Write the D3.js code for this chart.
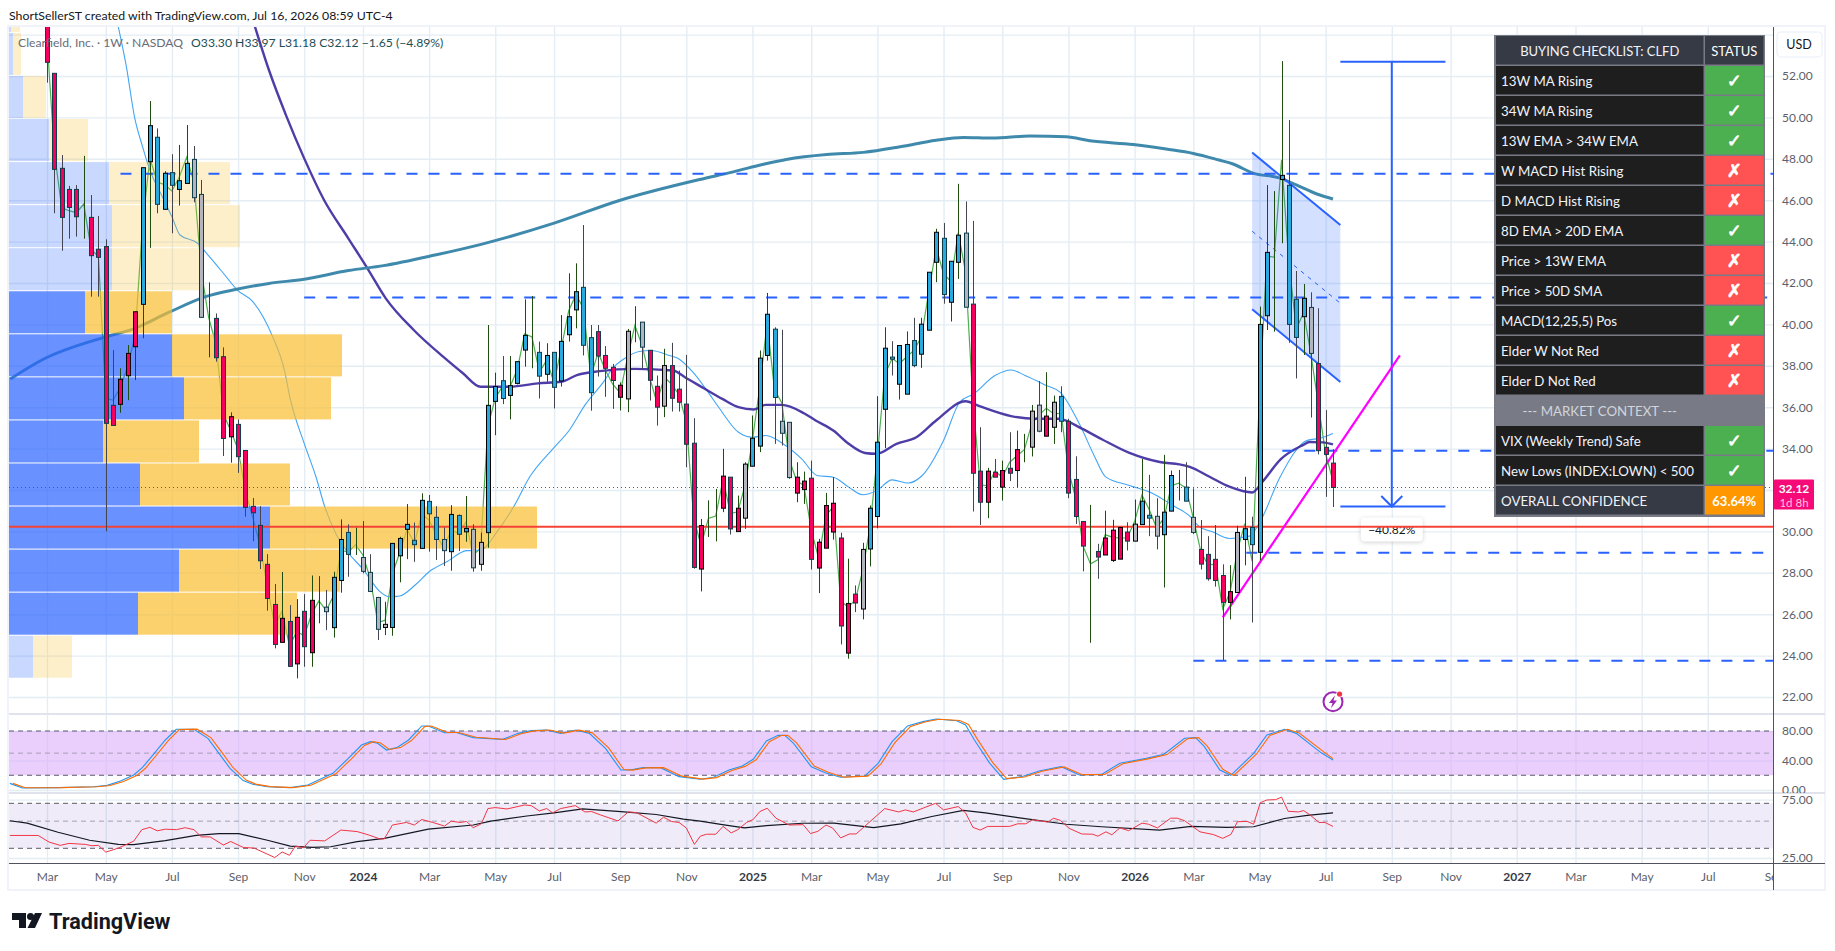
<!DOCTYPE html>
<html>
<head>
<meta charset="utf-8">
<title>CLFD weekly</title>
<script src="https://cdn.jsdelivr.net/npm/d3@7"></script>
<style>
  html, body { margin: 0; padding: 0; background: #fff; }
  text { font-family: Lato, "Open Sans", sans-serif; }
  .axis .domain { display: none; }
</style>
</head>
<body>
<svg id="chart"></svg>
<script>
// weekly candles, bar 0 = first week of Mar 2023
const opens = [
  56,52.13,47.54,46.52,46.52,45.17,45.17,43.63,43.76,36.09,
  36.14,37.52,38.92,40.97,47.86,49.04,45.56,47.33,46.52,46.81,
  47.97,46.28,40.53,40.29,38.44,34.57,35.17,33.91,31.21,30.29,
  28.41,26.47,24.64,25.65,23.6,26.14,24.14,26.53,26.34,25.35,
  27.63,29.95,29.03,28.74,28.02,26.81,25.36,25.36,28.82,30.1,
  29.57,29.18,31.45,30.68,29.61,29.02,30.77,29.98,30.1,28.41,
  29.94,36.28,37.28,36.57,37.15,38.76,38.92,38.65,37.59,38.65,
  37.27,39.5,40.7,41.79,39.36,39.65,38.5,37.93,36.48,36.4,
  39.82,40.11,38.75,37.01,36.05,38.01,36.87,36.15,34.26,28.18,
  30.65,30.65,31.12,32.62,29.99,30.64,33.15,34.12,38.5,39.77,
  35.32,35.27,31.85,32.02,32.57,28.23,29.19,29.97,29.68,24.12,
  26.97,26.25,29.15,30.72,35.9,38.42,37.11,36.63,39.22,38.56,
  39.72,43,44.16,41.07,43,44.41,40.98,32.91,31.41,32.86,
  32.14,33.05,32.94,33.78,34.07,36.1,34.6,35.03,36.52,35.32,
  32.51,30.48,29.39,29.03,28.86,28.6,28.66,29.97,29.53,30.33,
  30.78,30.73,29.84,30.98,32.54,32.14,30.68,29.13,28.89,28.65,
  27.87,26.57,27.05,29.61,30.19,28.99,40.42,43.64,47,46.72,
  41.21,40.37,40.82,38.11,34.06,33.3
];
const highs = [
  57,52.13,48.18,46.69,46.73,48.14,46.25,45.24,44.11,38.76,
  37.88,39,40.61,47.57,50.79,49.47,47.4,48.22,48.67,49.63,
  48.62,46.98,42.03,40.53,38.89,35.75,35.41,33.91,31.61,31.22,
  28.9,27.46,28.04,26.44,26.73,26.97,27.87,27.84,27.17,28.05,
  30.58,30.34,30.18,30.5,28.9,26.81,26.6,29.42,29.74,31.32,
  30.43,31.84,31.76,31.22,30.19,31.27,30.82,31.71,30.34,29.94,
  39.97,37.67,38.47,38.47,38.2,41.21,41.37,39.17,39.09,38.65,
  40.45,42.47,42.95,44.8,39.97,39.97,38.95,38.09,37.2,39.78,
  40.88,40.11,38.75,37.53,38.82,39.11,37.77,38.53,35.47,30.6,
  31.5,32.05,33.99,32.62,31.73,33.34,35.6,38.74,41.52,39.86,
  39.74,35.27,33.34,32.89,33.42,29.64,31.86,32.62,29.94,28.68,
  27.39,29.45,31.25,36.53,39.86,39.19,38.98,39.66,40.32,40.32,
  42.52,44.62,44.9,43.05,46.79,45.94,45,35.03,33.07,33.5,
  33.42,34.79,34.87,34.71,36.11,37.26,37.69,36.56,37.01,35.44,
  33.63,30.48,31.28,29.4,31,30.56,30.19,30.44,31.54,33.5,
  32.73,31.6,33.7,32.94,32.97,33.34,32.08,30.55,29.77,30.31,
  28.41,28.37,30.27,32.64,30.71,40.86,46.73,46.44,52.72,49.87,
  42.58,41.95,41.55,40.78,35.86,33.97
];
const lows = [
  51.68,45.37,43.56,44.14,44.24,44.14,41.34,41.34,30,35.12,
  35.73,36.34,37.31,39.33,43.7,45.37,45.56,44.4,45.74,46.81,
  45.9,40.34,38.41,38.2,33.64,33.32,32.83,30.71,29.53,28.18,
  26.17,24.35,24.64,23.48,22.9,23.46,23.46,25.56,25.23,24.87,
  27.04,27.81,28.86,27.97,27.1,24.75,24.99,24.96,27.54,28.66,
  28.53,29.18,29.02,28.62,28.33,28.1,29.05,29.5,28.05,28.1,
  29.21,34.65,36.15,35.41,37.1,37.96,37.88,36.42,37.23,35.94,
  37,39.17,39.81,38.5,35.83,37.48,36.5,35.92,35.84,35.76,
  39.14,37.85,36.32,35.11,35.52,35.79,35.79,33.1,28.2,27.1,
  29.73,29.52,30.93,29.85,29.99,30.12,33.15,33.83,38.25,34.23,
  34.15,32.54,31.41,31.33,28.16,27.02,29.19,29.6,24.54,23.85,
  26.1,25.75,28.31,30.15,34.02,37.53,36.37,36.63,37.93,37.9,
  39.72,42.04,41,40.14,42.2,40.83,30.96,30.31,30.64,32.62,
  31.49,32.43,32.14,33.34,33.62,34.79,34.6,34.23,34.79,31.6,
  30.36,28.07,24.62,27.71,28.86,28.52,28.66,29.08,29.53,30.33,
  29.77,29.13,27.29,30.98,31.49,31.46,29.87,28.16,27.62,27.33,
  23.78,25.75,27.05,28.36,25.6,28.6,39.73,39.65,43.92,39.11,
  37.39,38.52,35.5,33.72,31.67,31.18
];
const closes = [
  52.66,47.49,45.17,45.65,45.2,45.17,43.32,43.24,35.22,35.12,
  37.35,38.6,40.61,47.57,49.6,45.8,47.3,46.72,46.94,47.78,
  46.12,40.34,40.53,38.39,34.49,35.54,33.61,31.16,30.9,28.58,
  26.76,24.54,25.8,23.48,25.85,24.43,26.67,26.53,26.12,27.78,
  29.61,28.89,29.03,28.07,27.1,25.27,25.51,29.42,29.66,30.34,
  29.36,31.5,30.85,29.61,29.07,30.82,29.86,30.14,28.24,29.47,
  36.09,37,36.42,37.04,38.2,39.47,38.92,37.5,38.5,36.96,
  39.18,40.37,41.58,38.99,36.7,38.47,37.88,37.29,37.06,39.67,
  39.82,38.9,37.3,36,38.01,36.43,36.24,34.21,28.26,30.28,
  30.65,30.65,32.67,30.12,31.12,33.25,34.5,38.37,40.49,36.47,
  34.74,32.6,32.62,32.43,28.65,29.48,31.25,31.36,25.43,26.52,
  26.54,29.13,31.12,34.31,38.85,38.32,38.98,39.03,38.01,40.01,
  42.52,44.45,41.44,43.05,44.31,40.83,32.81,31.41,32.91,32.62,
  32.94,32.81,33.95,33.78,35.81,34.84,35.57,36.24,35.32,31.85,
  30.72,29.29,29.39,28.76,29.68,30.06,30.19,29.53,30.35,31.46,
  30.64,29.77,30.93,32.7,32.54,31.46,29.95,28.42,27.71,27.63,
  26.57,27.09,29.95,30.13,29.36,40,43.48,43.64,47.2,40,
  39.37,41.26,38.6,33.9,33.72,32.12
];
// elder impulse colour of each bar: c = crimson, b = blue, n = neutral
const impulse = (
  "cccccccccc" + "cccbbbbbbb" + "nncccccccc" + "ccccccccnb" + "bbbnnnnbbb" + "bbbbnbbbnn" +
  "bbbbbbbbbb" + "bbbbbccccn" + "nnccnccccc" + "cccccnbbbb" + "nncccccccc" + "cnbbbbbbbb" +
  "bbbbbncccc" + "ccccnncnbc" + "ccccccccnb" + "bnbbbbnccc" + "ccnbbbbbbb" + "bbnccc"
).split("");

// moving averages at these bars
const longMaBars = [-5,-0.7,8.1,11.9,16.7,21.6,25.3,30.2,35,41,45.8,52.8,59.2,68.9,78,88.8,93.4,97.5,100.6,106.1,111.1,116.1,121,124.7,128.7,133.7,138.7,141.9,147.8,152.3,156,159.5,161.4,164.1,167.8,170,172.8,175];
const longMaValues = [37.36,38.28,39.41,39.8,40.6,41.34,41.66,41.98,42.18,42.6,42.84,43.35,43.88,44.88,46,47,47.37,47.74,47.97,48.21,48.31,48.58,48.9,49.03,49,49.1,49.06,48.87,48.69,48.47,48.26,47.94,47.75,47.31,47.07,46.74,46.3,46.06];
const midMaBars = [28.3,30.2,32.6,35,37.7,41,43.6,46.1,49.9,53.9,56.6,59,63,66.8,70,72.2,75.2,80,85.2,86.8,89.5,91.9,94.1,96.2,97.8,100,103,104.6,107,109.1,111.3,112.9,115.6,118.3,121,125,126.9,131.2,134.4,137.6,140.9,143.6,147.3,151.6,154.1,155.5,158.2,160.9,164,165.4,167.9,170.9,171.8,173.6,175];
const midMaValues = [54.38,52.29,50.04,48.02,46.01,44.16,42.71,41.26,39.73,38.44,37.64,36.99,36.99,37.15,37.23,37.56,37.74,37.85,37.77,37.45,36.89,36.4,36,35.89,36.11,36.11,35.71,35.36,34.87,34.23,33.79,33.75,34.23,34.55,35.36,36.29,36.05,35.57,35.44,35.44,34.95,34.44,33.79,33.34,33.24,33.12,32.64,32.16,31.88,32.4,33.49,34.17,34.32,34.3,34.2];
const shortMaBars = [9.7,10.8,11.9,13,14,15.7,17,18.1,20.5,22.1,24,25.9,28,29.4,30.7,32.3,33.1,35,36.6,37.8,39.3,40.7,43.1,45.3,46.6,48,50.1,52,54.4,57.1,59,61.4,63.5,65.7,68.9,71.1,73.2,75.9,76.9,78.5,80.6,82.2,84.7,86,87.9,89.8,91.4,94.1,96,97.8,100.5,102.7,104.8,107,109.1,111,112.9,115,117.2,119.1,122,124.2,126.1,129,131.2,133.1,136,137.9,140.6,142.5,144.1,147.3,150.6,153.2,155.4,156.8,158.6,160.9,163.6,165.2,167.7,171.6,173.1,175];
const shortMaValues = [54.38,52.45,50.04,48.59,47.46,46.17,45.2,44.32,43.92,43.27,42.47,41.66,41.1,40.37,39.41,37.8,36.4,34.25,32.64,31.19,29.9,29.1,28.13,27.09,26.84,26.88,27.41,28.05,28.53,29.07,29.1,30.06,31.19,32.64,34.01,34.9,36.1,37.31,37.85,38.33,38.69,38.74,38.5,38.33,37.69,36.81,36,34.79,34.55,34.63,34.15,33.5,32.7,32.62,32.14,31.77,31.97,32.49,32.34,32.7,34.39,36.24,36.64,37.53,37.8,37.53,37.05,36.72,35.11,33.66,32.62,32.22,31.81,31.25,30.77,30.23,29.98,29.66,29.77,30.55,32.56,34.41,34.49,34.73];

// volume profile, rows from the bottom up
const vpEdges = [22.93,25.01,27.09,29.17,31.25,33.33,35.41,37.49,39.57,41.65,43.73,45.81,47.89,49.97,52.05,54.13,56.21];
const vpUp = [24,129,170,261,131,94,175,163,76,103,103,100,40,14,4,2];
const vpDown = [39,159,161,267,150,96,147,170,87,88,128,121,39,23,8,9];
const vpValueArea = [0,1,1,1,1,1,1,1,1,0,0,0,0,0,0,0];

// horizontal levels drawn on the chart: price and first bar
const levelPrices = [47.28,41.3,33.9,28.97,23.75];
const levelStartBars = [10,35,168.1,163.2,156];
const supportPrice = 30.23;
const lastPrice = 32.12;

// channel, trend line and price range drawings
const channelBars = [164,176];
const channelUpper = [48.3,44.8];
const channelMiddle = [44.5,41.02];
const channelLower = [40.73,37.22];
const trendBars = [160,184.1];
const trendPrices = [25.85,38.5];
const rangeBar = 183;
const rangeCapBars = [176,190.3];
const rangePrices = [52.69,31.2];
const rangeLabel = "\u221240.82%";

// stochastic pane
const stochKBars = [-5.05,-3.35,1.5,6.4,8.2,10,11.8,13,14.6,16.1,17.6,20,21.9,23.4,24.9,26.7,28,30,33.1,35.5,38.9,41,42.8,44,45,46.2,47.7,49.2,51,51.9,54.1,55.6,58,62,64.1,65.9,68,69.9,72,73.8,76,78.1,79.3,81.1,83.5,86,88.9,90.7,92.8,94.6,96.1,97.9,99.5,100.4,101.6,104,105.9,108,111.3,113.1,115,117.1,119.2,121,123.8,125,126.2,128.3,130.2,132.6,135,138,140.5,143.5,146,149.6,152,154.8,156.3,157.5,159.6,161.1,164.2,166,168.4,170,173.3,175];
const stochKValues = [9,2.7,3.2,4.5,6.3,12.2,20.3,30.7,49.7,67.8,82.3,82.3,70.1,49.7,29.4,12.7,7.7,4.5,3.2,6.8,22.6,42.9,61,65.5,63.3,54.2,57.9,67.8,86.8,86.8,77.7,78.2,71,68.7,76.8,80.5,81.4,76.8,81.4,76.8,56.5,27.1,27.1,30.3,30.3,18.1,14.5,17.2,27.1,32.5,41.6,66.4,74.1,74.1,63.3,31.6,23.5,17.2,19,36.2,65.5,86.8,92.7,96.3,94,88.1,67.8,36.2,14.5,18.1,25.8,31.6,20.3,21.2,36.2,42.9,48.4,70.1,71,58.8,27.1,19.9,49.7,74.6,82.3,76.8,51.1,40.7];
const stochDBars = [-4.65,-2.95,1.9,6.8,8.6,10.4,12.2,13.4,15,16.5,18,20.4,22.3,23.8,25.3,27.1,28.4,30.4,33.5,35.9,39.3,41.4,43.2,44.4,45.4,46.6,48.1,49.6,51.4,52.3,54.5,56,58.4,62.4,64.5,66.3,68.4,70.3,72.4,74.2,76.4,78.5,79.7,81.5,83.9,86.4,89.3,91.1,93.2,95,96.5,98.3,99.9,100.8,102,104.4,106.3,108.4,111.7,113.5,115.4,117.5,119.6,121.4,124.2,125.4,126.6,128.7,130.6,133,135.4,138.4,140.9,143.9,146.4,150,152.4,155.2,156.7,157.9,160,161.5,164.6,166.4,168.8,170.4,173.7,175];
const stochDValues = [9,3,3.2,4.5,6,11.5,19.5,29.5,48.5,67,82,82.5,71,51,30.5,13.5,8,4.6,3.2,6.4,22,42,60.5,65.5,63.8,55,57.5,67,86,86.8,78,78,71.5,68.5,76.3,80.2,81.3,77.2,81.2,77.5,57.5,27.8,27,30,30.3,18.8,14.8,16.8,26.5,32,41,65.5,73.8,74.2,64,32.5,24,17.4,18.8,35.5,64.5,86,92.5,96,94.2,88.8,69,37.2,15.5,17.6,25.5,31.3,20.8,21,35.6,42.5,48,69.5,71,59.5,28,19.7,48.8,74,82.3,77.3,52,42.6];

// rsi pane
const rsiBars = [-5.05,-1.2,0.3,1.8,3,5.2,6.1,7,8,9.7,11.8,12.9,14,15,16.1,17.6,18.8,20,21,22.2,24,25,26.7,28.2,31,32,33,33.8,34.9,35.8,37.8,40,42.2,43.7,45.3,45.9,47,48.9,50,51,52.5,54.1,55,56.2,57.1,58,59.1,60,61,62.6,65,65.9,67,68,68.8,69.9,71.9,73.2,74.1,75.3,77.7,79.1,80.2,82.9,83.9,85,86,87,88.1,88.9,89.75,91,92,93.1,94,95.2,96.1,97,98,99.2,101,102.9,103.9,104.9,106,106.9,108,109.2,110.1,114,115.9,116.8,117.9,120.9,122,124,125,126,127,128,131,132.1,133.2,134.1,136.2,137,137.9,139.1,140.8,142.3,143,144.1,144.9,146,147.2,149,149.9,151.1,152.9,153.8,154.8,156.9,158.7,160,161.1,162,163.3,164.2,165.1,166,167.2,168,168.9,170.3,171,171.8,173.1,173.9,175];
const rsiValues = [38.2,38.2,33.7,31.7,32.9,32.3,31.5,31.7,27.9,30.1,34.3,42.6,44.5,41.7,43,42.6,44.2,42.6,37.2,37.2,31.9,34.1,30.5,30.1,25.2,28,26.3,31.3,30.3,34.9,34.5,42.3,41.1,38.7,35.8,35.8,46.5,48.8,46.5,51.6,48.8,45.6,50,48.8,49.7,44.2,47.6,63.4,64.6,62.9,67.8,67,60.6,63.4,58.5,63.4,67,59.5,59.9,56.3,50.2,59.5,58.8,48.2,53.9,49.7,48.8,44,32.3,37.7,39.1,39.1,45.3,40.1,42.6,48.8,51.6,59.9,63.8,52.9,46.5,46.8,39.6,41.3,46.5,44,36.5,39.3,39.3,63.4,59.5,61.8,59.5,70,61.8,65.8,58.5,44.5,42.3,45.3,45.3,47.6,47.6,51.3,49.2,52.9,50.7,43.7,39.3,39.1,37.7,40.9,38.7,44,41.8,48.2,47.2,44,52.9,52.9,50.5,40.9,38.9,36.2,38.9,49.5,49.8,47.2,70.8,74.5,75,78.6,60.2,59.5,61,56.7,48.8,48.8,45.3];
const rsiMaBars = [-5.05,-2.7,1.5,5.8,9.7,11.8,16.1,20.3,23.4,26.1,30,33.1,36.1,38.6,42.2,45.9,51.9,58,60.4,65.3,69,72.9,78.1,82.9,86.6,88.9,91.9,94.9,97.9,102.8,107.1,112.5,116.2,120.4,124.7,127.7,132.6,138.7,143.5,151.4,155.7,160.5,164.2,168.4,171.5,175];
const rsiMaValues = [50.4,48.2,40.6,34.9,32.3,32.1,34.7,38.3,39.6,39.6,34.9,31.3,30.5,30.9,34,36.2,43,46.5,50,55.1,58.5,63.1,59.9,56.7,51.9,50,46.8,44,46,48.1,48.2,44.2,47.5,54.6,61.2,58.5,52.9,47.2,45,42.3,45.3,44.5,45,52.6,55.7,58.5];

// axis ticks
const priceTicks = [22,24,26,28,30,32,34,36,38,40,42,44,46,48,50,52,54];
const priceLabelTicks = [22,24,26,28,30,34,36,38,40,42,44,46,48,50,52];
const stochTicks = [0,40,80];
const stochLevels = [20,50,80];
const rsiTicks = [25,75];
const rsiLevels = [30,50,70];
const timeBars = [0,8,17,26,35,43,52,61,69,78,87,96,104,113,122,130,139,148,156,165,174,183,191,200,208,217,226,235];
const timeLabels = ["Mar","May","Jul","Sep","Nov","2024","Mar","May","Jul","Sep","Nov","2025","Mar","May","Jul","Sep","Nov","2026","Mar","May","Jul","Sep","Nov","2027","Mar","May","Jul","Sep"];

// checklist table
const tableHeader = ["BUYING CHECKLIST: CLFD","STATUS"];
const checkLabels = ["13W MA Rising","34W MA Rising","13W EMA > 34W EMA","W MACD Hist Rising","D MACD Hist Rising","8D EMA > 20D EMA","Price > 13W EMA","Price > 50D SMA","MACD(12,25,5) Pos","Elder W Not Red","Elder D Not Red"];
const checkPassed = [1,1,1,0,0,1,0,0,1,0,0];
const contextTitle = "--- MARKET CONTEXT ---";
const contextLabels = ["VIX (Weekly Trend) Safe","New Lows (INDEX:LOWN) < 500"];
const contextPassed = [1,1];
const confidenceLabel = "OVERALL CONFIDENCE";
const confidenceValue = "63.64%";

class CandleChart {

  constructor(_config) {
    this.config = {
      parentElement: _config.parentElement,
      containerWidth: _config.containerWidth,
      containerHeight: _config.containerHeight
    };
    this.initVis();
  }

  /**
   * Scales, axes and panes
   */
  initVis() {
    let vis = this;

    vis.left = 9;
    vis.right = 1773;
    vis.frameRight = 1825;
    vis.top = 27;
    vis.mainBottom = 714;
    vis.stochBottom = 793;
    vis.timeY = 863;
    vis.frameBottom = 890;

    vis.xScale = d3.scaleLinear().domain([0, 175]).range([47, 1333]);
    vis.yScale = d3.scaleLinear().domain([22, 52]).range([697, 76]);
    vis.stochScale = d3.scaleLinear().domain([0, 80]).range([790, 731]);
    vis.rsiScale = d3.scaleLog().domain([30, 70]).range([848.3, 803.3]);
    vis.volScale = d3.scaleLinear().domain([0, 600]).range([vis.left, vis.left + 600]);

    vis.svg = d3.select(vis.config.parentElement)
        .attr('width', vis.config.containerWidth)
        .attr('height', vis.config.containerHeight)
        .style('display', 'block');

    let clip = (id, x, y, w, h) => vis.svg.append('clipPath').attr('id', id)
        .append('rect').attr('x', x).attr('y', y).attr('width', w).attr('height', h);
    clip('main-clip', vis.left, vis.top, vis.right - vis.left, vis.mainBottom - vis.top);
    clip('plot-clip', vis.left, vis.top, vis.right - vis.left, vis.timeY - vis.top);
    clip('time-clip', vis.left, vis.timeY, vis.right - vis.left, 27);
    clip('stoch-clip', vis.right, vis.mainBottom, 52, vis.stochBottom - vis.mainBottom);
  }

  renderVis() {
    let vis = this;
    vis.renderFrame();
    vis.renderGrid();
    let mainPane = vis.svg.append('g').attr('clip-path', 'url(#main-clip)');
    // the profile sits over the averages, its alpha lets them show through
    vis.renderAverages(mainPane);
    vis.renderVolumeProfile(mainPane);
    vis.renderDrawings(mainPane);
    vis.renderCandles(mainPane);
    vis.renderIndicators();
    vis.renderAxes();
    vis.renderTable();
    vis.renderText();
  }

  renderFrame() {
    let vis = this;
    vis.svg.append('rect')
        .attr('x', vis.left - 1).attr('y', vis.top - 1)
        .attr('width', vis.frameRight - vis.left + 1).attr('height', vis.frameBottom - vis.top + 1)
        .attr('fill', '#fff').attr('stroke', '#f0f3fa').attr('stroke-width', 2);
  }

  renderGrid() {
    let vis = this;
    let grid = vis.svg.append('g').attr('clip-path', 'url(#plot-clip)');

    // vertical month lines through every pane
    grid.append('g').attr('class', 'axis')
        .attr('transform', `translate(0,${vis.timeY})`)
        .call(d3.axisBottom(vis.xScale).tickValues(timeBars).tickSize(-(vis.timeY - vis.top)).tickFormat(''))
        .selectAll('line').attr('stroke', '#e4edf4').attr('stroke-width', 1.4);

    let gridWidth = vis.right - vis.left;
    [[vis.yScale, priceTicks], [vis.stochScale, stochTicks], [vis.rsiScale, rsiTicks]].forEach(([scale, ticks]) => {
      grid.append('g').attr('class', 'axis')
          .attr('transform', `translate(${vis.left},0)`)
          .call(d3.axisRight(scale).tickValues(ticks).tickSize(gridWidth).tickFormat(''))
          .selectAll('line').attr('stroke', '#e4edf4').attr('stroke-width', 1.4);
    });

    // bands of the lower panes
    grid.append('rect')
        .attr('x', vis.left).attr('width', gridWidth)
        .attr('y', vis.stochScale(80)).attr('height', vis.stochScale(20) - vis.stochScale(80))
        .attr('fill', '#d9a8fb').attr('opacity', 0.55);
    grid.append('rect')
        .attr('x', vis.left).attr('width', gridWidth)
        .attr('y', vis.rsiScale(70)).attr('height', vis.rsiScale(30) - vis.rsiScale(70))
        .attr('fill', '#7e57c2').attr('opacity', 0.12);

    // pane separators
    [vis.mainBottom, vis.stochBottom].forEach(y => {
      vis.svg.append('line')
          .attr('x1', vis.left).attr('x2', vis.frameRight).attr('y1', y).attr('y2', y)
          .attr('stroke', '#e0e3eb').attr('stroke-width', 2);
    });
  }

  renderVolumeProfile(pane) {
    let vis = this;
    let rows = vpUp.map((up, i) => ({
      up, down: vpDown[i], value: vpValueArea[i], low: vpEdges[i], high: vpEdges[i + 1]
    }));
    let rowY = d => vis.yScale(d.high) + 1;
    let rowH = d => vis.yScale(d.low) - vis.yScale(d.high) - 1;

    pane.selectAll('.vp-up').data(rows).join('rect')
        .attr('class', 'vp-up')
        .attr('x', vis.volScale(0))
        .attr('y', rowY).attr('height', rowH)
        .attr('width', d => vis.volScale(d.up) - vis.volScale(0))
        .attr('fill', '#2962ff')
        .attr('opacity', d => d.value ? 0.7 : 0.25);

    pane.selectAll('.vp-down').data(rows).join('rect')
        .attr('class', 'vp-down')
        .attr('x', d => vis.volScale(d.up))
        .attr('y', rowY).attr('height', rowH)
        .attr('width', d => vis.volScale(d.down) - vis.volScale(0))
        .attr('fill', '#fabe30')
        .attr('opacity', d => d.value ? 0.7 : 0.25);
  }

  renderDrawings(pane) {
    let vis = this;
    let x = vis.xScale, y = vis.yScale;
    const blue = '#2962ff';

    // price range tool
    let range = pane.append('g');
    range.append('line')
        .attr('x1', x(rangeBar)).attr('x2', x(rangeBar))
        .attr('y1', y(rangePrices[0])).attr('y2', y(rangePrices[1]))
        .attr('stroke', blue).attr('stroke-width', 2);
    rangePrices.forEach(p => {
      range.append('line')
          .attr('x1', x(rangeCapBars[0])).attr('x2', x(rangeCapBars[1]))
          .attr('y1', y(p)).attr('y2', y(p))
          .attr('stroke', blue).attr('stroke-width', 2);
    });
    range.append('path')
        .attr('d', d3.line()([[x(rangeBar) - 10.5, y(rangePrices[1]) - 10.5], [x(rangeBar), y(rangePrices[1])], [x(rangeBar) + 10.5, y(rangePrices[1]) - 10.5]]))
        .attr('fill', 'none').attr('stroke', blue).attr('stroke-width', 2);
    range.append('rect')
        .attr('x', x(rangeBar) - 31).attr('y', y(rangePrices[1]) + 11)
        .attr('width', 62).attr('height', 24).attr('rx', 4)
        .attr('fill', '#fff')
        .style('filter', 'drop-shadow(0 1px 2px rgba(0,0,0,.18))');
    range.append('text')
        .attr('x', x(rangeBar)).attr('y', y(rangePrices[1]) + 23)
        .attr('text-anchor', 'middle').attr('dominant-baseline', 'central')
        .attr('font-size', 12).attr('fill', '#131722')
        .text(rangeLabel);

    // channel
    let area = d3.area().x((d, i) => x(channelBars[i])).y0((d, i) => y(channelLower[i])).y1((d, i) => y(channelUpper[i]));
    pane.append('path').attr('d', area(channelBars)).attr('fill', blue).attr('opacity', 0.2);
    let chanLine = d3.line().x((d, i) => x(channelBars[i])).y(d => y(d));
    [channelUpper, channelLower].forEach(vals => {
      pane.append('path').attr('d', chanLine(vals))
          .attr('fill', 'none').attr('stroke', blue).attr('stroke-width', 2);
    });
    pane.append('path').attr('d', chanLine(channelMiddle))
        .attr('fill', 'none').attr('stroke', blue).attr('stroke-width', 1).attr('stroke-dasharray', '4 5');

    // dashed levels
    pane.selectAll('.level').data(levelPrices).join('line')
        .attr('class', 'level')
        .attr('x1', (d, i) => x(levelStartBars[i])).attr('x2', vis.right)
        .attr('y1', d => y(d)).attr('y2', d => y(d))
        .attr('stroke', blue).attr('stroke-width', 2).attr('stroke-dasharray', '11 11');

    // last price and support
    pane.append('line')
        .attr('x1', vis.left).attr('x2', vis.right).attr('y1', y(lastPrice)).attr('y2', y(lastPrice))
        .attr('stroke', '#ff0066').attr('stroke-width', 1).attr('stroke-dasharray', '1 3');
    pane.append('line')
        .attr('x1', vis.left).attr('x2', vis.right).attr('y1', y(supportPrice)).attr('y2', y(supportPrice))
        .attr('stroke', '#f44336').attr('stroke-width', 2);

    // trend line
    pane.append('path')
        .attr('d', d3.line().x((d, i) => x(trendBars[i])).y(d => y(d))(trendPrices))
        .attr('fill', 'none').attr('stroke', '#ff00ff').attr('stroke-width', 2.2);

    // earnings marker
    let cx = x(175), cy = 701.7;
    let mark = pane.append('g').attr('transform', `translate(${cx},${cy})`);
    mark.append('circle').attr('r', 9.5).attr('fill', '#fff').attr('stroke', '#9c27b0').attr('stroke-width', 2);
    mark.append('path').attr('d', 'M2,-6.5 L-4,1.2 L-0.5,1.2 L-2,6.5 L4,-1.2 L0.5,-1.2 Z').attr('fill', '#9c27b0');
    mark.append('circle').attr('cx', 6.6).attr('cy', -7.6).attr('r', 3.4).attr('fill', '#fff');
    mark.append('circle').attr('cx', 6.6).attr('cy', -7.6).attr('r', 2.6).attr('fill', '#f23645');
  }

  renderAverages(pane) {
    let vis = this;
    let maLine = bars => d3.line().curve(d3.curveMonotoneX).x((d, i) => vis.xScale(bars[i])).y(d => vis.yScale(d));

    // typical price of each bar
    let typical = highs.map((h, i) => (h + lows[i] + closes[i]) / 3);
    pane.append('path')
        .attr('d', d3.line().x((d, i) => vis.xScale(i)).y(d => vis.yScale(d))(typical))
        .attr('fill', 'none').attr('stroke', '#4caf50').attr('stroke-width', 1.2);

    pane.append('path').attr('d', maLine(shortMaBars)(shortMaValues))
        .attr('fill', 'none').attr('stroke', '#42a5f5').attr('stroke-width', 1.1);
    pane.append('path').attr('d', maLine(midMaBars)(midMaValues))
        .attr('fill', 'none').attr('stroke', '#3f2d9f').attr('stroke-width', 2.4).attr('opacity', 0.92);
    pane.append('path').attr('d', maLine(longMaBars)(longMaValues))
        .attr('fill', 'none').attr('stroke', '#3f8aac').attr('stroke-width', 3);
  }

  renderCandles(pane) {
    let vis = this;
    const fills = { c: '#f5005f', b: '#2aa9df', n: '#b2b5be' };
    let bars = opens.map((o, i) => ({ i, o, h: highs[i], l: lows[i], c: closes[i], color: fills[impulse[i]] }));
    let bx = d => Math.round(vis.xScale(d.i));

    let candle = pane.selectAll('.candle').data(bars).join('g').attr('class', 'candle');

    candle.append('line')
        .attr('x1', d => bx(d) + 0.5).attr('x2', d => bx(d) + 0.5)
        .attr('y1', d => vis.yScale(d.h)).attr('y2', d => vis.yScale(d.l))
        .attr('stroke', d => d.c >= d.o ? '#1f4d0f' : '#434651');

    candle.append('rect')
        .attr('x', d => bx(d) - 1.5)
        .attr('width', 4)
        .attr('y', d => vis.yScale(Math.max(d.o, d.c)))
        .attr('height', d => Math.abs(vis.yScale(d.o) - vis.yScale(d.c)))
        .attr('fill', d => d.color)
        .attr('stroke', d => d.c >= d.o ? '#000' : '#0f3d4a');
  }

  renderIndicators() {
    let vis = this;
    let pane = vis.svg.append('g').attr('clip-path', 'url(#plot-clip)');

    let level = (scale, v, dark) => pane.append('line')
        .attr('x1', vis.left).attr('x2', vis.right).attr('y1', scale(v)).attr('y2', scale(v))
        .attr('stroke', dark ? '#5d5a68' : '#a79fb5').attr('stroke-dasharray', '5 4');
    stochLevels.forEach(v => level(vis.stochScale, v, v !== 50));
    rsiLevels.forEach(v => level(vis.rsiScale, v, v !== 50));

    let stochLine = bars => d3.line().x((d, i) => vis.xScale(bars[i])).y(d => vis.stochScale(d));
    pane.append('path').attr('d', stochLine(stochKBars)(stochKValues))
        .attr('fill', 'none').attr('stroke', '#2196f3').attr('stroke-width', 1.1);
    pane.append('path').attr('d', stochLine(stochDBars)(stochDValues))
        .attr('fill', 'none').attr('stroke', '#ff6d00').attr('stroke-width', 1.1);

    let rsiLine = bars => d3.line().x((d, i) => vis.xScale(bars[i])).y(d => vis.rsiScale(d));
    pane.append('path').attr('d', rsiLine(rsiMaBars)(rsiMaValues))
        .attr('fill', 'none').attr('stroke', '#131722').attr('stroke-width', 1.2);
    pane.append('path').attr('d', rsiLine(rsiBars)(rsiValues))
        .attr('fill', 'none').attr('stroke', '#f23645').attr('stroke-width', 1);
  }

  renderAxes() {
    let vis = this;
    const axisText = sel => sel.selectAll('text').attr('fill', '#5d606b').attr('font-size', 12);

    // right axis line and time axis line
    vis.svg.append('line')
        .attr('x1', vis.right + 0.5).attr('x2', vis.right + 0.5).attr('y1', vis.top).attr('y2', vis.frameBottom)
        .attr('stroke', '#50535e');
    vis.svg.append('line')
        .attr('x1', vis.left).attr('x2', vis.frameRight).attr('y1', vis.timeY + 0.5).attr('y2', vis.timeY + 0.5)
        .attr('stroke', '#50535e');

    let priceAxis = d3.axisRight(vis.yScale).tickValues(priceLabelTicks).tickSize(0).tickPadding(9).tickFormat(d3.format('.2f'));
    vis.svg.append('g').attr('class', 'axis')
        .attr('transform', `translate(${vis.right},0)`).call(priceAxis).call(axisText);

    let stochAxis = d3.axisRight(vis.stochScale).tickValues(stochTicks).tickSize(0).tickPadding(9).tickFormat(d3.format('.2f'));
    vis.svg.append('g').attr('clip-path', 'url(#stoch-clip)')
        .append('g').attr('class', 'axis')
        .attr('transform', `translate(${vis.right},0)`).call(stochAxis).call(axisText);

    let rsiAxis = d3.axisRight(vis.rsiScale).tickValues(rsiTicks).tickSize(0).tickPadding(9).tickFormat(d3.format('.2f'));
    vis.svg.append('g').attr('class', 'axis')
        .attr('transform', `translate(${vis.right},0)`).call(rsiAxis).call(axisText);

    let timeAxis = d3.axisBottom(vis.xScale).tickValues(timeBars).tickSize(0).tickPadding(9)
        .tickFormat(d => timeLabels[timeBars.indexOf(d)]);
    vis.svg.append('g').attr('clip-path', 'url(#time-clip)')
        .append('g').attr('class', 'axis')
        .attr('transform', `translate(0,${vis.timeY})`).call(timeAxis).call(axisText)
        .selectAll('text').filter(d => /^\d{4}$/.test(timeLabels[timeBars.indexOf(d)]))
        .attr('fill', '#363a45').attr('font-weight', 700);

    // currency button
    vis.svg.append('rect')
        .attr('x', 1777).attr('y', 32).attr('width', 45).attr('height', 25).attr('rx', 4)
        .attr('fill', '#fff').attr('stroke', '#f0f3fa').attr('stroke-width', 1.5);
    vis.svg.append('text')
        .attr('x', 1799).attr('y', 44.5).attr('text-anchor', 'middle').attr('dominant-baseline', 'central')
        .attr('font-size', 12.5).attr('fill', '#131722').text('USD');

    // last price tag
    let tagY = vis.yScale(lastPrice);
    vis.svg.append('rect')
        .attr('x', vis.right + 1).attr('y', tagY - 8).attr('width', 40).attr('height', 30).attr('rx', 1)
        .attr('fill', '#f50a78');
    vis.svg.append('text')
        .attr('x', vis.right + 21).attr('y', tagY + 1).attr('text-anchor', 'middle').attr('dominant-baseline', 'central')
        .attr('font-size', 12).attr('font-weight', 700).attr('fill', '#fff').text(d3.format('.2f')(lastPrice));
    vis.svg.append('text')
        .attr('x', vis.right + 21).attr('y', tagY + 14.5).attr('text-anchor', 'middle').attr('dominant-baseline', 'central')
        .attr('font-size', 11.5).attr('fill', '#ffc4dd').text('1d 8h');
  }

  renderTable() {
    let vis = this;
    const rowH = 30, x0 = 1494, y0 = 35, col1 = 1703.5, col2 = 1705, end = 1763.5;
    const PASS = '\u2713', FAIL = '\u2717';
    let passRow = (label, ok) => ({ label, status: ok ? PASS : FAIL, fill: '#1e1e1e', statusFill: ok ? '#4caf50' : '#ff5252' });

    let rows = [{ label: tableHeader[0], status: tableHeader[1], fill: '#363a45', statusFill: '#363a45', head: true }]
        .concat(checkLabels.map((l, i) => passRow(l, checkPassed[i])))
        .concat([{ label: contextTitle, merged: true }])
        .concat(contextLabels.map((l, i) => passRow(l, contextPassed[i])))
        .concat([{ label: confidenceLabel, status: confidenceValue, fill: '#363a45', statusFill: '#ff9800', value: true }]);

    let g = vis.svg.append('g');
    g.append('rect').attr('x', x0).attr('y', y0).attr('width', 271).attr('height', rows.length * rowH + 2).attr('fill', '#787b86');

    let row = g.selectAll('.check-row').data(rows).join('g')
        .attr('class', 'check-row')
        .attr('transform', (d, i) => `translate(0,${y0 + 1 + i * rowH})`);

    row.filter(d => !d.merged).append('rect')
        .attr('x', x0 + 2).attr('width', col1 - x0 - 2).attr('height', rowH - 1.5).attr('fill', d => d.fill);
    row.filter(d => !d.merged).append('rect')
        .attr('x', col2).attr('width', end - col2).attr('height', rowH - 1.5).attr('fill', d => d.statusFill);

    row.append('text')
        .attr('x', d => (d.head || d.merged) ? (x0 + 2 + col1) / 2 : x0 + 7)
        .attr('y', rowH / 2 - 0.5)
        .attr('dominant-baseline', 'central')
        .attr('text-anchor', d => (d.head || d.merged) ? 'middle' : 'start')
        .attr('font-size', d => d.head ? 13 : 13.3)
        .attr('fill', d => d.merged ? '#d1d4dc' : '#f0f3fa')
        .text(d => d.label);

    row.filter(d => !d.merged).append('text')
        .attr('x', (col2 + end) / 2)
        .attr('y', rowH / 2 - 0.5)
        .attr('dominant-baseline', 'central')
        .attr('text-anchor', 'middle')
        .attr('font-size', d => (d.head || d.value) ? 13 : 18)
        .attr('font-weight', d => d.value ? 700 : 400)
        .style('font-family', d => (d.head || d.value) ? null : "'DejaVu Sans'")
        .attr('fill', '#fff')
        .attr('stroke', d => (d.head || d.value) ? 'none' : '#fff')
        .attr('stroke-width', 0.7)
        .text(d => d.status);
  }

  renderText() {
    let vis = this;
    vis.svg.append('text')
        .attr('x', 9).attr('y', 15).attr('dominant-baseline', 'central')
        .attr('font-size', 12.3).attr('fill', '#131722')
        .text('ShortSellerST created with TradingView.com, Jul 16, 2026 08:59 UTC-4');

    let legend = vis.svg.append('text')
        .attr('x', 18).attr('y', 42).attr('dominant-baseline', 'central').attr('font-size', 12.2);
    legend.append('tspan').attr('fill', '#6a6d78').text('Clearfield, Inc. \u00b7 1W \u00b7 NASDAQ');
    legend.append('tspan').attr('fill', '#1d4f57').attr('dx', 8).text('O33.30  H33.97  L31.18  C32.12  \u22121.65 (\u22124.89%)');

    // tradingview mark
    let logo = vis.svg.append('g').attr('transform', 'translate(12,913)').attr('fill', '#131722');
    logo.append('path').attr('d', 'M0,0 H14 V15 H7 V7 H0 Z');
    logo.append('circle').attr('cx', 18.5).attr('cy', 3.5).attr('r', 3.5);
    logo.append('path').attr('d', 'M23,0 H30 L23,15 H15.5 Z');
    vis.svg.append('text')
        .attr('x', 49).attr('y', 921).attr('dominant-baseline', 'central')
        .attr('font-size', 21.6).attr('font-weight', 700).attr('fill', '#131722').style('font-family', 'Roboto')
        .text('TradingView');
  }
}

const candleChart = new CandleChart({
  parentElement: '#chart',
  containerWidth: 1835,
  containerHeight: 951
});
candleChart.renderVis();
</script>
</body>
</html>
